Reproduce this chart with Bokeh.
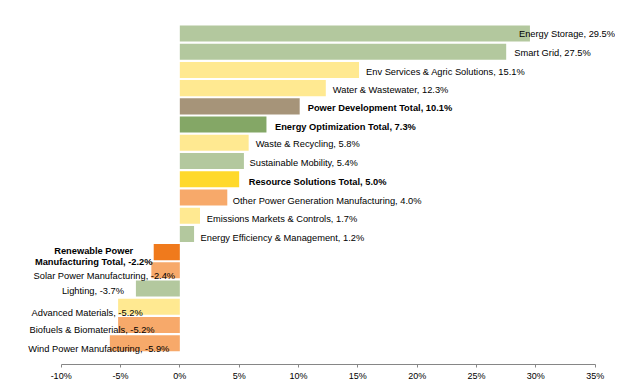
from bokeh.plotting import figure
from bokeh.models import Range1d, FixedTicker, PrintfTickFormatter, ColumnDataSource
from bokeh.core.properties import value
from bokeh.embed import file_html
from bokeh.resources import INLINE

# ---- data ----
categories = [
    "Energy Storage", "Smart Grid", "Env Services & Agric Solutions", "Water & Wastewater",
    "Power Development Total", "Energy Optimization Total", "Waste & Recycling",
    "Sustainable Mobility", "Resource Solutions Total", "Other Power Generation Manufacturing",
    "Emissions Markets & Controls", "Energy Efficiency & Management",
    "Renewable Power\nManufacturing Total", "Solar Power Manufacturing", "Lighting",
    "Advanced Materials", "Biofuels & Biomaterials", "Wind Power Manufacturing",
]
values = [29.5, 27.5, 15.1, 12.3, 10.1, 7.3, 5.8, 5.4, 5.0, 4.0, 1.7, 1.2,
          -2.2, -2.4, -3.7, -5.2, -5.2, -5.9]
is_total = [False, False, False, False, True, True, False, False, True, False, False, False,
            True, False, False, False, False, False]
x_ticks = [-10, -5, 0, 5, 10, 15, 20, 25, 30, 35]

# ---- styles ----
SAGE, YEL, BROWN, DGREEN, GOLD, LORANGE, DORANGE = (
    "#B3C89E", "#FFE991", "#A69479", "#84A766", "#FFD92B", "#F7A96A", "#F07A1C")
colors = [SAGE, SAGE, YEL, YEL, BROWN, DGREEN, YEL, SAGE, GOLD, LORANGE, YEL, SAGE,
          DORANGE, LORANGE, SAGE, YEL, LORANGE, LORANGE]
# label nudges in screen pixels (relative to bar end)
label_dx = [-11, 8, 7, 7, 8, 8.5, 7, 5.6, 9.5, 5.5, 6.8, 6.5, -60, -47, -43, -31, -26, -11]
label_dy = [0.5, 1, 2.5, 2.3, 2, 2.8, 1, 2.3, 3, 3.5, 3.5, 4.3, 4.5, 5.5, 2, 6.5, 5.5, 6]

FONT = "Liberation Sans"
n = len(categories)
ypos = [-i for i in range(n)]

p = figure(
    output_backend="svg", toolbar_location=None,
    frame_width=608, frame_height=356,
    x_range=Range1d(-14.52, 36.71), y_range=Range1d(-(n - 1) - 1.168, 1.371),
    y_axis_location=None, min_border_left=7, min_border_right=0,
    min_border_top=8, min_border_bottom=0,
)
p.outline_line_color = None
p.xgrid.visible = False
p.ygrid.visible = False
p.background_fill_color = "white"
p.border_fill_color = "white"

src = ColumnDataSource(dict(y=ypos, v=values, c=colors))
p.hbar(y="y", left=0, right="v", height=0.88, fill_color="c", line_color=None, source=src)

ax = p.xaxis[0]
ax.ticker = FixedTicker(ticks=x_ticks)
ax.formatter = PrintfTickFormatter(format="%d%%")
ax.bounds = (x_ticks[0], x_ticks[-1])
ax.axis_line_color = "#868686"
ax.major_tick_line_color = "#868686"
ax.minor_tick_line_color = None
ax.major_tick_in = 0
ax.major_tick_out = 3
ax.major_label_standoff = 3
ax.major_label_text_font = FONT
ax.major_label_text_font_size = "9px"
ax.major_label_text_color = "black"

def group(pos, bold):
    d = dict(x=[], y=[], t=[], dx=[], dy=[])
    for i in range(n):
        if (values[i] >= 0) == pos and is_total[i] == bold:
            d["x"].append(values[i]); d["y"].append(ypos[i])
            d["t"].append(f"{categories[i]}, {values[i]:.1f}%")
            d["dx"].append(label_dx[i]); d["dy"].append(label_dy[i])
    return ColumnDataSource(d)

for pos in (True, False):
    for bold in (False, True):
        s = group(pos, bold)
        if not s.data["x"]:
            continue
        p.text(x="x", y="y", text="t", x_offset="dx", y_offset="dy", source=s,
               text_font=value(FONT), text_font_size="9.3px",
               text_font_style="bold" if bold else "normal",
               text_color="black", text_baseline="middle",
               text_align="left" if pos else "center", text_line_height=1.1)

open("out.html", "w").write(file_html(p, INLINE))
